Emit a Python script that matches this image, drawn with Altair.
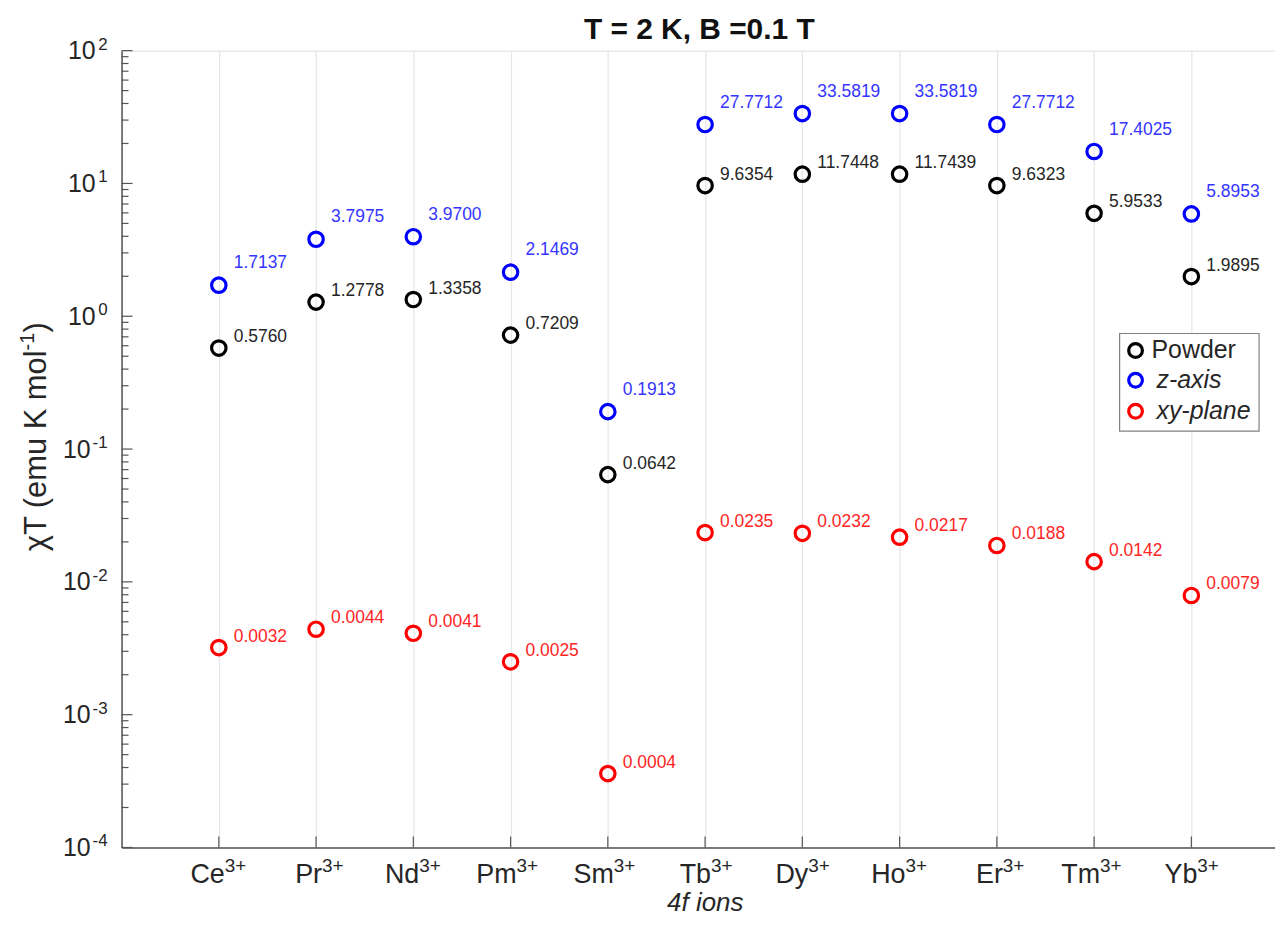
import altair as alt
import pandas as pd

ions = ["Ce", "Pr", "Nd", "Pm", "Sm", "Tb", "Dy", "Ho", "Er", "Tm", "Yb"]
ion_sup = ["3+"] * len(ions)

powder = [0.5760, 1.2778, 1.3358, 0.7209, 0.0642, 9.6354, 11.7448, 11.7439, 9.6323, 5.9533, 1.9895]
powder_txt = ["0.5760", "1.2778", "1.3358", "0.7209", "0.0642", "9.6354", "11.7448", "11.7439", "9.6323", "5.9533", "1.9895"]
zaxis = [1.7137, 3.7975, 3.9700, 2.1469, 0.1913, 27.7712, 33.5819, 33.5819, 27.7712, 17.4025, 5.8953]
zaxis_txt = ["1.7137", "3.7975", "3.9700", "2.1469", "0.1913", "27.7712", "33.5819", "33.5819", "27.7712", "17.4025", "5.8953"]
xy = [0.0032, 0.0044, 0.0041, 0.0025, 0.00036, 0.0235, 0.0232, 0.0217, 0.0188, 0.0142, 0.0079]
xy_txt = ["0.0032", "0.0044", "0.0041", "0.0025", "0.0004", "0.0235", "0.0232", "0.0217", "0.0188", "0.0142", "0.0079"]

series_names = ["Powder", "z-axis", "xy-plane"]
series_colors = ["#000000", "#0000ff", "#ff0000"]
label_colors = ["#262626", "#3535ff", "#ff2525"]

y_ticks = [1e-4, 1e-3, 1e-2, 1e-1, 1, 10, 100]
y_tick_base = ["10"] * len(y_ticks)
y_tick_sup = ["-4", "-3", "-2", "-1", "0", "1", "2"]
minor_ticks = [m * 10.0 ** k for k in range(-4, 2) for m in range(2, 10)]
positions = list(range(1, len(ions) + 1))

title_text = "T = 2 K, B =0.1 T"
y_title_main = "χT (emu K mol"
y_title_sup = "-1"
y_title_end = ")"
x_title = "4f  ions"

rows = []
for name, vals, txts in zip(series_names, [powder, zaxis, xy], [powder_txt, zaxis_txt, xy_txt]):
    for p, ion, v, t in zip(positions, ions, vals, txts):
        rows.append({"pos": p, "ion": ion, "value": v, "label": t, "series": name})
df = pd.DataFrame(rows)

FONT = "Liberation Sans"
TXT = "#262626"
AX = "#555555"
W, H = 1158, 800

xscale = alt.Scale(domain=[0, 11.86], nice=False, zero=False)
yscale = alt.Scale(type="log", domain=[1e-4, 100], nice=False)

x_axis = alt.Axis(values=positions, labels=False, title=None, grid=True, gridColor="#e6e6e6",
                  gridWidth=1.2, ticks=False, domainColor=AX, domainWidth=1.5)
y_axis = alt.Axis(values=y_ticks, labels=False, title=None, grid=False, ticks=False,
                  domainColor=AX, domainWidth=1.5)

x_enc = alt.X("pos:Q", scale=xscale, axis=x_axis)
y_enc = alt.Y("value:Q", scale=yscale, axis=y_axis)

base = alt.Chart(df)

points = base.mark_point(shape="circle", filled=False, size=210, strokeWidth=3.2, opacity=1).encode(
    x=x_enc, y=y_enc,
    color=alt.Color("series:N", scale=alt.Scale(domain=series_names, range=series_colors), legend=None),
)

text_layers = []
dys = [-11, -22, -11]
for name, col, dy in zip(series_names, label_colors, dys):
    text_layers.append(
        base.transform_filter(alt.datum.series == name)
        .mark_text(align="left", baseline="middle", dx=15, dy=dy, fontSize=17.5, font=FONT, color=col)
        .encode(x=x_enc, y=y_enc, text="label:N")
    )

# inward tick marks
minor_df = pd.DataFrame({"value": minor_ticks})
major_df = pd.DataFrame({"value": y_ticks})
xt_df = pd.DataFrame({"pos": positions, "base": ions, "sup": ion_sup})
yt_df = pd.DataFrame({"value": y_ticks, "base": y_tick_base, "sup": y_tick_sup})

minor_rules = alt.Chart(minor_df).mark_rule(color=AX, strokeWidth=1.2).encode(
    y=y_enc, x=alt.value(0), x2=alt.value(7))
major_rules = alt.Chart(major_df).mark_rule(color=AX, strokeWidth=1.2).encode(
    y=y_enc, x=alt.value(0), x2=alt.value(11))
x_rules = alt.Chart(xt_df).mark_rule(color=AX, strokeWidth=1.2).encode(
    x=x_enc, y=alt.value(H), y2=alt.value(H - 11))

# x tick labels with superscripts
x_lab_base = alt.Chart(xt_df).mark_text(align="right", baseline="alphabetic", fontSize=27, font=FONT,
                                        color=TXT, dx=6).encode(
    x=x_enc, y=alt.value(H + 36), text="base:N")
x_lab_sup = alt.Chart(xt_df).mark_text(align="left", baseline="alphabetic", fontSize=19, font=FONT,
                                       color=TXT, dx=6).encode(
    x=x_enc, y=alt.value(H + 25), text="sup:N")

# y tick labels with superscripts
y_lab_sup = alt.Chart(yt_df).mark_text(align="right", baseline="alphabetic", fontSize=17, font=FONT,
                                       color=TXT, dy=-1).encode(
    y=y_enc, x=alt.value(-14), text="sup:N")
y_lab_base1 = alt.Chart(yt_df).transform_filter("length(datum.sup) == 1").mark_text(
    align="right", baseline="alphabetic", fontSize=25, font=FONT, color=TXT, dy=8.5).encode(
    y=y_enc, x=alt.value(-26), text="base:N")
y_lab_base2 = alt.Chart(yt_df).transform_filter("length(datum.sup) == 2").mark_text(
    align="right", baseline="alphabetic", fontSize=25, font=FONT, color=TXT, dy=8.5).encode(
    y=y_enc, x=alt.value(-31), text="base:N")

one = pd.DataFrame({"a": [0]})

# titles
main_title = alt.Chart(one).mark_text(align="center", baseline="alphabetic", fontSize=30,
                                      fontWeight="bold", font=FONT, color="#111111").encode(
    x=alt.value(580), y=alt.value(-12), text=alt.value(title_text))
yt_main = alt.Chart(one).mark_text(angle=270, align="right", baseline="alphabetic", fontSize=31,
                                   font=FONT, color=TXT).encode(
    x=alt.value(-76), y=alt.value(301), text=alt.value(y_title_main))
yt_sup = alt.Chart(one).mark_text(angle=270, align="left", baseline="alphabetic", fontSize=20,
                                  font=FONT, color=TXT).encode(
    x=alt.value(-88), y=alt.value(301), text=alt.value(y_title_sup))
yt_end = alt.Chart(one).mark_text(angle=270, align="left", baseline="alphabetic", fontSize=31,
                                  font=FONT, color=TXT).encode(
    x=alt.value(-76), y=alt.value(283), text=alt.value(y_title_end))
xt_title = alt.Chart(one).mark_text(align="center", baseline="alphabetic", fontSize=26, font=FONT,
                                    fontStyle="italic", color=TXT).encode(
    x=alt.value(586), y=alt.value(H + 64), text=alt.value(x_title))

# legend
legend_box = alt.Chart(one).mark_rect(fill="white", stroke="#808080", strokeWidth=1.2).encode(
    x=alt.value(1002), x2=alt.value(1142), y=alt.value(284), y2=alt.value(382))
legend_layers = [legend_box]
leg_y = [301, 331, 362]
for name, col, ly in zip(series_names, series_colors, leg_y):
    legend_layers.append(
        alt.Chart(one).mark_point(shape="circle", filled=False, size=190, strokeWidth=3.2, color=col, opacity=1)
        .encode(x=alt.value(1018), y=alt.value(ly)))
    legend_layers.append(
        alt.Chart(one).mark_text(align="left", baseline="middle", fontSize=25, font=FONT,
                                 color=TXT, fontStyle="normal" if name == "Powder" else "italic")
        .encode(x=alt.value(1034 if name == "Powder" else 1039), y=alt.value(ly), text=alt.value(name)))

chart = alt.layer(
    points, *text_layers, minor_rules, major_rules, x_rules,
    x_lab_base, x_lab_sup, y_lab_sup, y_lab_base1, y_lab_base2,
    main_title, yt_main, yt_sup, yt_end, xt_title, *legend_layers
).properties(
    width=W, height=H,
    autosize=alt.AutoSizeParams(type="none"),
    padding={"left": 114, "top": 41, "right": 0, "bottom": 70},
).configure_view(stroke=None).configure(background="white")

chart.save("out.html", embed_options={"renderer": "svg", "actions": False})
